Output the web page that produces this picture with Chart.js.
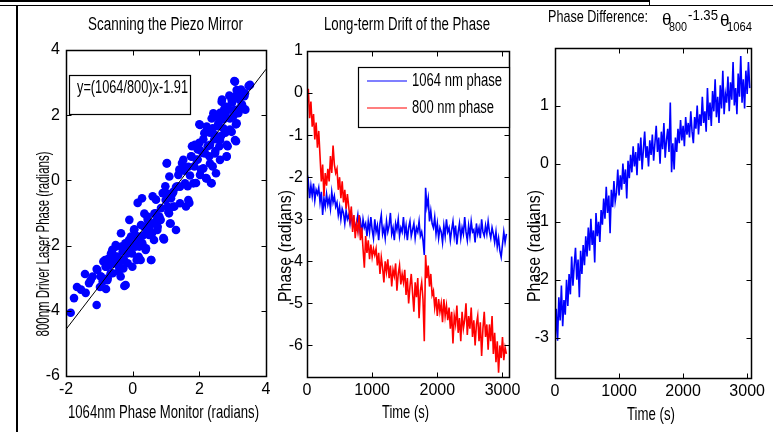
<!DOCTYPE html>
<html>
<head>
<meta charset="utf-8">
<script src="https://cdn.jsdelivr.net/npm/chart.js@4.4.1/dist/chart.umd.min.js"></script>
<style>
  html, body { margin: 0; padding: 0; background: #fff; }
  body { width: 773px; height: 432px; position: relative; overflow: hidden; }
  canvas { position: absolute; top: 0; }
  .rule { position: absolute; background: #000; }
</style>
</head>
<body>
<div class="rule" style="left:0;top:0;width:650px;height:2px"></div>
<div class="rule" style="left:649px;top:0;width:1px;height:5px"></div>
<div class="rule" style="left:0;top:5px;width:773px;height:1px"></div>
<div class="rule" style="left:16px;top:5px;width:2px;height:427px"></div>
<canvas id="scanChart" width="270" height="432" style="left:20px"></canvas>
<canvas id="driftChart" width="260" height="432" style="left:275px"></canvas>
<canvas id="diffChart" width="251" height="432" style="left:522px"></canvas>
<script>
const TICK_FONT = "'Liberation Sans Narrow', 'Liberation Sans', Arial, sans-serif";
const TEXT_FONT = "'Liberation Sans', Arial, sans-serif";

// Panel 1 : scanning the piezo mirror (x = 1064nm phase, y = 800nm phase)
const scanPairs = [
  [-1.86,-4.06],[-1.76,-3.61],[-1.67,-3.27],[-1.43,-2.87],[-1.41,-3.45],[-1.31,-3.15],[-1.08,-3.82],[-1.08,-2.72],
  [-0.98,-3.27],[-0.95,-2.95],[-0.8,-3.33],[-0.83,-2.44],[-0.8,-2.65],[-0.75,-3.0],[-0.65,-2.24],[-0.6,-2.85],
  [-0.55,-2.54],[-0.5,-2.03],[-0.45,-2.34],[-0.42,-2.8],[-0.35,-1.62],[-0.3,-2.18],[-0.25,-3.24],[-0.22,-1.93],
  [-0.15,-2.54],[-0.1,-1.21],[-0.05,-1.72],[-0.02,-2.24],[0.05,-1.5],[0.12,-2.44],[0.15,-1.82],[0.18,-2.34],
  [0.2,-2.03],[0.25,-1.37],[0.28,-0.55],[0.15,-0.69],[0.35,-1.02],[0.4,-1.62],[0.45,-1.21],[0.4,-2.08],
  [0.55,-2.44],[0.6,-0.49],[0.58,-1.62],[0.65,-1.02],[0.7,-0.59],[0.75,-1.42],[0.8,-1.11],[0.9,-0.39],
  [0.92,-1.77],[0.98,-0.18],[1.05,-0.8],[1.03,0.53],[1.1,0.12],[1.12,-1.32],[1.2,-0.39],[1.25,-0.8],
  [1.3,-1.52],[1.35,-0.18],[1.4,0.33],[1.48,0.53],[1.6,-0.8],[1.65,-0.18],[1.7,-0.69],[1.75,0.74],
  [1.78,1.05],[1.85,0.43],[1.9,-0.08],[1.95,0.64],[2.0,1.15],[2.0,1.72],[2.05,0.33],[2.1,0.84],
  [2.12,1.26],[2.2,0.07],[2.25,1.05],[2.3,0.74],[2.32,1.46],[2.35,-0.08],[2.4,0.43],[2.45,1.26],
  [2.48,0.9],[2.5,0.22],[2.55,1.66],[2.6,1.05],[2.62,2.07],[2.65,1.36],[2.68,2.48],[2.72,1.87],
  [2.78,1.46],[2.82,0.74],[2.85,1.05],[2.88,2.17],[2.92,1.56],[2.98,2.38],[3.02,1.97],[3.05,3.05],
  [3.08,2.58],[3.1,1.72],[3.1,1.2],[3.15,2.17],[3.2,2.48],[3.25,2.79],[3.28,2.33],[3.35,2.58],
  [3.48,2.9],[3.38,2.17],
  [-1.26,-3.06],[-1.06,-2.75],[-0.96,-2.95],[-0.88,-2.49],[-0.81,-2.65],[-0.76,-3.06],[-0.71,-2.39],[-0.66,-2.85],
  [-0.61,-2.13],[-0.56,-2.54],[-0.51,-1.98],[-0.46,-2.34],[-0.41,-2.65],[-0.36,-2.95],[-0.34,-2.03],[-0.26,-2.44],
  [-0.21,-3.21],[-0.16,-2.24],[-0.11,-1.83],[-0.06,-2.08],[-0.01,-2.65],[0.04,-1.52],[0.09,-2.03],[0.14,-2.39],
  [0.19,-1.73],[0.24,-2.44],[0.29,-1.93],[0.34,-1.42],[0.39,-2.13],[0.44,-1.11],[0.49,-1.67],[0.56,-2.44],
  [0.59,-1.32],[0.64,-1.83],[0.69,-1.01],[0.74,-1.52],[0.84,-1.21],[0.94,-1.81],[0.99,-0.6],[1.04,-0.4],
  [1.09,-1.01],[1.14,-1.32],
  [3.07,3.03],[3.52,2.93],[3.12,2.77],[2.67,2.41],[2.82,2.26],[2.97,2.47],[3.22,2.57],[3.37,2.67],
  [3.27,2.31],[3.07,2.16],[2.77,2.06],[2.92,1.9],[3.17,2.06],[3.32,2.21],[2.42,2.06],[2.57,1.75],
  [2.72,1.6],[2.97,1.49],[3.12,1.75],[2.02,1.7],[2.37,1.9],[2.22,1.65],[2.47,1.39],[2.62,1.24],
  [2.82,1.09],[3.07,1.24],[1.87,1.09],[2.02,0.93],[2.17,0.83],[2.32,1.09],[2.47,0.83],[2.62,0.63],
  [2.82,0.73],[2.12,0.37],[2.32,0.52],[1.92,0.63],[1.77,0.73],[1.67,0.42],[1.52,0.63],[1.37,0.17],
  [2.02,0.17],[2.22,0.06],[2.37,-0.09],[1.82,-0.09],[1.57,-0.09],[1.42,-0.19],[1.22,-0.35],[1.02,0.52],
  [1.67,-0.6],[1.42,-0.7],[1.07,-0.96],[1.22,-0.81],
  [-1.55,-3.35],[-1.2,-2.95],[-0.9,-3.1],[-0.7,-2.6],[-0.58,-2.3],[-0.4,-2.5],[-0.28,-2.7],[-0.18,-2.0],
  [0.0,-1.95],[0.1,-1.7],[0.3,-1.7],[0.5,-1.45],[0.7,-1.25],[0.85,-0.85],[1.15,-0.55],[1.3,-0.2],
  [1.55,0.3],[1.72,0.15],[1.95,0.95],[2.15,1.45],[2.4,1.6],[2.55,1.95],[2.75,2.2],[2.9,2.6]
];
const fitX = [-2, 4];
const fitY = [-4.57, 3.41];
const scanXTicks = [-2, 0, 2, 4];
const scanYTicks = [-6, -4, -2, 0, 2, 4];

// Panel 2 : long-term drift, one sample every 20 s
const sampleStep = 20;
const phase1064 = [
  -2.3,-2.1,-2.5,-2.2,-2.45,-2.15,-2.55,-2.3,-2.4,-2.25,-2.6,-2.35,
  -2.9,-2.5,-2.7,-2.4,-2.65,-2.5,-2.75,-2.35,-2.6,-2.45,-2.7,
  -2.6,-2.9,-2.7,-3.0,-2.75,-2.85,-3.1,-2.8,-3.0,-2.9,-3.1,-2.85,-3.15,-3.0,-3.2,
  -3.1,-2.9,-3.25,-3.05,-3.35,-3.0,-3.2,-3.1,-3.4,-3.05,
  -3.3,-2.95,-3.25,-3.45,-3.0,-3.3,-3.15,-3.5,-3.1,-2.9,-3.35,-3.2,-3.45,-3.05,-3.3,-3.15,-2.85,-3.35,-3.2,-3.5,
  -3.1,-3.25,-3.0,-3.4,-3.2,-3.3,-2.95,-3.35,-3.15,-3.5,-3.2,-3.05,-3.4,-3.25,-3.1,-3.45,-3.2,-3.3,-3.05,-3.4,
  -3.3,-3.5,
  -3.85,-2.25,-2.7,-2.5,-3.05,-2.8,-3.1,
  -3.2,-2.95,-3.35,-3.1,-3.45,-3.2,-3.3,-3.55,-3.15,-3.4,-3.0,-3.3,-3.2,-3.5,-3.25,-3.05,-3.4,-3.15,-3.6,-3.3,
  -3.1,-3.45,-3.2,-3.35,-2.95,-3.3,-3.5,-3.15,-3.4,-3.05,-3.3,-3.25,-3.55,-3.1,-3.35,-3.2,-3.45,-3.0,-3.3,-3.4,
  -3.15,-3.35,-3.05,-3.3,-3.45,-3.2,-3.35,-3.55,-3.3,-3.65,-3.45,-3.75,-3.9,-3.6,-3.3,-3.55,-3.35
];
const phase800 = [
  -0.3,0.1,-0.6,-0.2,-0.8,-0.5,-1.1,-0.7,-1.3,-0.9,-1.5,
  -2.1,-1.7,-2.45,-1.9,-2.2,
  -1.8,-2.1,-1.5,-1.9,-1.25,-1.7,-1.9,
  -1.8,-2.3,-2.0,-2.5,-2.1,-2.6,-2.3,-2.75,-2.4,-2.7,
  -3.0,-2.7,-3.3,-2.9,-3.45,-3.1,-3.3,-2.9,-3.5,
  -3.2,-3.7,-4.15,-3.4,-3.8,-3.5,-3.95,-3.6,-3.9,-3.7,-3.85,
  -3.7,-4.1,-3.8,-4.3,-3.9,-4.15,-4.5,-4.0,-4.25,-3.95,-4.4,-4.1,-4.6,-4.2,-4.35,-4.05,-4.7,-4.3,-4.1,-4.55,-4.3,
  -4.5,-4.2,-4.8,-4.4,-5.0,-4.6,-4.3,-4.75,-5.2,-4.5,-4.85,-4.4,-5.35,-4.7,-4.5,-4.9,
  -5.9,-3.85,-4.4,-4.1,-4.6,-4.3,-4.8,
  -4.7,-5.1,-4.85,-5.3,-4.9,-5.2,-5.0,-5.45,-4.9,-5.3,-5.05,-5.4,
  -5.1,-5.6,-5.2,-5.95,-5.3,-5.5,-5.05,-5.7,-5.35,-5.9,-5.2,-5.6,-5.4,-5.0,-5.75,-5.3,
  -5.6,-5.1,-5.8,-5.4,-6.0,-5.5,-5.3,-5.9,-5.45,-6.25,-5.6,-5.2,-5.8,-5.5,-6.1,
  -5.5,-5.9,-5.3,-6.2,-5.7,-6.4,-5.9,-6.65,-6.0,-6.3,-5.8,-6.35,-6.05,-6.2
];
const driftXTicks = [0, 1000, 2000, 3000];
const driftYTicks = [-6, -5, -4, -3, -2, -1, 0, 1];

// Panel 3 : phase difference theta800 - 1.35 theta1064
const phaseDiff = [
  -3.1,-2.5,-3.05,-2.3,-2.7,-2.1,-2.8,-2.35,-2.6,-2.0,-2.45,
  -1.9,-2.25,-1.6,-2.1,-1.75,-1.45,-2.0,-1.65,-2.3,-1.5,-1.9,-1.4,-1.75,
  -1.25,-1.6,-1.1,-1.5,-0.95,-1.4,-1.15,-1.7,-0.85,-1.25,-1.0,-1.35,-0.8,
  -1.05,-0.6,-0.95,-0.4,-0.85,-0.55,-1.2,-0.45,-0.75,-0.3,-0.65,-0.5,-0.1,
  -0.55,-0.2,-0.45,0.0,-0.35,-0.1,-0.6,0.05,-0.25,0.15,-0.15,0.3,-0.05,
  0.2,-0.2,0.35,0.05,0.45,-0.1,0.25,0.55,0.1,0.3,-0.05,0.4,0.15,
  0.5,0.05,0.35,0.65,0.2,0.45,0.0,0.55,0.25,0.7,0.1,0.4,0.6,0.2,1.05,
  -0.15,0.35,-0.1,0.45,0.2,0.6,
  0.35,0.75,0.4,0.65,0.3,0.8,0.5,0.7,0.45,0.9,0.55,0.35,0.8,0.6,1.0,0.5,0.85,0.65,1.15,0.7,
  0.9,0.55,1.3,0.75,1.05,0.65,1.25,0.9,1.45,0.8,1.15,0.7,1.35,0.95,1.6,0.85,1.2,1.05,1.5,
  0.9,1.4,1.1,1.75,1.0,1.3,0.85,1.55,1.15,1.85,1.05,1.45,0.95,1.6,1.2,1.75,1.3
];
const diffXTicks = [0, 1000, 2000, 3000];
const diffYTicks = [-3, -2, -1, 0, 1];

Chart.defaults.font.family = TICK_FONT;
Chart.defaults.font.size = 16;
Chart.defaults.color = '#000';
Chart.defaults.animation = false;

// Draw a text, optionally rotated, squeezed to the width it has in the picture
function drawLabel(ctx, tx, ox) {
  ctx.save();
  ctx.font = tx.size + 'px ' + TEXT_FONT;
  ctx.fillStyle = '#000';
  ctx.textBaseline = 'middle';
  ctx.textAlign = 'left';
  const w = ctx.measureText(tx.text).width;
  ctx.translate(tx.x - ox, tx.y);
  if (tx.rotate) ctx.rotate(-Math.PI / 2);
  if (tx.width) ctx.scale(tx.width / w, 1);
  ctx.fillText(tx.text, tx.align === 'center' ? -w / 2 : 0, 0);
  ctx.restore();
}

// Matlab style box: frame, inward ticks, titles, text boxes and legend
const panelDecor = {
  id: 'panelDecor',
  afterDraw(chart, args, opts) {
    const ctx = chart.ctx;
    const area = chart.chartArea;
    const ox = chart.canvas.offsetLeft;
    const l = Math.round(area.left) + 0.5, r = Math.round(area.right) + 0.5;
    const t = Math.round(area.top) + 0.5, b = Math.round(area.bottom) + 0.5;
    const xs = chart.scales.x, ys = chart.scales.y;
    ctx.save();
    ctx.strokeStyle = '#000';
    ctx.lineWidth = 1;
    ctx.beginPath();
    xs.ticks.forEach(tk => {
      const px = Math.round(xs.getPixelForValue(tk.value)) + 0.5;
      ctx.moveTo(px, b); ctx.lineTo(px, b - 5);
      ctx.moveTo(px, t); ctx.lineTo(px, t + 5);
    });
    ys.ticks.forEach(tk => {
      const py = Math.round(ys.getPixelForValue(tk.value)) + 0.5;
      ctx.moveTo(l, py); ctx.lineTo(l + 5, py);
      ctx.moveTo(r, py); ctx.lineTo(r - 5, py);
    });
    ctx.stroke();
    ctx.lineWidth = 1.5;
    ctx.strokeRect(l, t, r - l, b - t);

    (opts.boxes || []).forEach(bx => {
      ctx.fillStyle = '#fff';
      ctx.fillRect(bx.x - ox, bx.y, bx.w, bx.h);
      ctx.lineWidth = 1.2;
      ctx.strokeRect(bx.x - ox + 0.5, bx.y + 0.5, bx.w, bx.h);
    });

    (opts.legend || []).forEach(item => {
      const ds = chart.data.datasets[item.dataset];
      ctx.strokeStyle = ds.borderColor;
      ctx.lineWidth = 1.2;
      ctx.beginPath();
      ctx.moveTo(item.x1 - ox, item.y);
      ctx.lineTo(item.x2 - ox, item.y);
      ctx.stroke();
      drawLabel(ctx, { text: ds.label, x: item.textX, y: item.y, size: 18, width: item.width }, ox);
    });

    (opts.texts || []).forEach(tx => drawLabel(ctx, tx, ox));
    ctx.restore();
  }
};

function linearAxis(min, max, tickValues, size, horizontal, pad) {
  return {
    type: 'linear',
    min: min,
    max: max,
    afterBuildTicks: s => { s.ticks = tickValues.map(v => ({ value: v })); },
    afterFit: s => { if (horizontal) s.height = size; else s.width = size; },
    grid: { display: false, drawTicks: false },
    border: { display: false },
    ticks: { autoSkip: false, maxRotation: 0, padding: pad, color: '#000', callback: v => String(v) }
  };
}

function commonOptions(padding, xAxis, yAxis, decor) {
  return {
    responsive: false,
    animation: false,
    layout: { padding: padding },
    scales: { x: xAxis, y: yAxis },
    plugins: { legend: { display: false }, title: { display: false }, tooltip: { enabled: false }, panelDecor: decor },
    elements: { line: { tension: 0 } }
  };
}

function buildScanChart() {
  const points = scanPairs.map(p => ({ x: p[0], y: p[1] }));
  const fit = fitX.map((x, i) => ({ x: x, y: fitY[i] }));
  new Chart(document.getElementById('scanChart'), {
    type: 'scatter',
    data: {
      datasets: [
        { label: 'fit', data: fit, showLine: true, borderColor: '#000', borderWidth: 1, pointRadius: 0, order: 0 },
        { label: 'scan', data: points, backgroundColor: '#0000ff', borderWidth: 0, pointRadius: 4.3, order: 1 }
      ]
    },
    options: commonOptions(
      { top: 50, right: 24, left: 0, bottom: 0 },
      linearAxis(-2, 4, scanXTicks, 56, true, 4),
      linearAxis(-6, 4, scanYTicks, 46, false, 6),
      {
        boxes: [{ x: 69, y: 75, w: 121, h: 39 }],
        texts: [
          { text: 'Scanning the Piezo Mirror', x: 165.5, y: 25, size: 18, width: 155, align: 'center' },
          { text: 'y=(1064/800)x-1.91', x: 77, y: 88, size: 18, width: 111 },
          { text: '1064nm Phase Monitor (radians)', x: 163.5, y: 413, size: 19, width: 191, align: 'center' },
          { text: '800nm Driver Laser Phase (radians)', x: 44, y: 244, size: 19, width: 185, align: 'center', rotate: true }
        ]
      }
    ),
    plugins: [panelDecor]
  });
}

function buildDriftChart() {
  const blue = phase1064.map((v, i) => ({ x: i * sampleStep, y: v }));
  const red = phase800.map((v, i) => ({ x: i * sampleStep, y: v }));
  new Chart(document.getElementById('driftChart'), {
    type: 'line',
    data: {
      datasets: [
        { label: '1064 nm phase', data: blue, borderColor: '#0000ff', borderWidth: 1.6, pointRadius: 0, order: 1 },
        { label: '800 nm phase', data: red, borderColor: '#ff0000', borderWidth: 1.6, pointRadius: 0, order: 0 }
      ]
    },
    options: commonOptions(
      { top: 51, right: 26, left: 0, bottom: 0 },
      linearAxis(0, 3100, driftXTicks, 55, true, 4),
      linearAxis(-6.75, 1, driftYTicks, 32, false, 4),
      {
        boxes: [{ x: 358, y: 67, w: 151, h: 60 }],
        legend: [
          { dataset: 0, x1: 367, x2: 407, y: 81, textX: 412, width: 90 },
          { dataset: 1, x1: 367, x2: 407, y: 108, textX: 412, width: 82 }
        ],
        texts: [
          { text: 'Long-term Drift of the Phase', x: 407, y: 25, size: 18, width: 166, align: 'center' },
          { text: 'Time (s)', x: 405.5, y: 413, size: 19, width: 47, align: 'center' },
          { text: 'Phase (radians)', x: 286, y: 246, size: 19, width: 112, align: 'center', rotate: true }
        ]
      }
    ),
    plugins: [panelDecor]
  });
}

function buildDiffChart() {
  const diff = phaseDiff.map((v, i) => ({ x: i * sampleStep, y: v }));
  new Chart(document.getElementById('diffChart'), {
    type: 'line',
    data: {
      datasets: [
        { label: 'phase difference', data: diff, borderColor: '#0000ff', borderWidth: 1.6, pointRadius: 0 }
      ]
    },
    options: commonOptions(
      { top: 48, right: 22, left: 0, bottom: 0 },
      linearAxis(0, 3060, diffXTicks, 54, true, 4),
      linearAxis(-3.69, 1.99, diffYTicks, 33, false, 6),
      {
        texts: [
          { text: 'Phase Difference:', x: 548, y: 17, size: 17, width: 100 },
          { text: 'θ', x: 662, y: 20, size: 17 },
          { text: '800', x: 669, y: 27, size: 13, width: 18 },
          { text: '-1.35', x: 688, y: 16, size: 15, width: 30 },
          { text: 'θ', x: 720, y: 21, size: 17 },
          { text: '1064', x: 727, y: 27, size: 13, width: 25 },
          { text: 'Time (s)', x: 651, y: 415, size: 19, width: 48, align: 'center' },
          { text: 'Phase (radians)', x: 535, y: 246, size: 19, width: 112, align: 'center', rotate: true }
        ]
      }
    ),
    plugins: [panelDecor]
  });
}

buildScanChart();
buildDriftChart();
buildDiffChart();
</script>
</body>
</html>
